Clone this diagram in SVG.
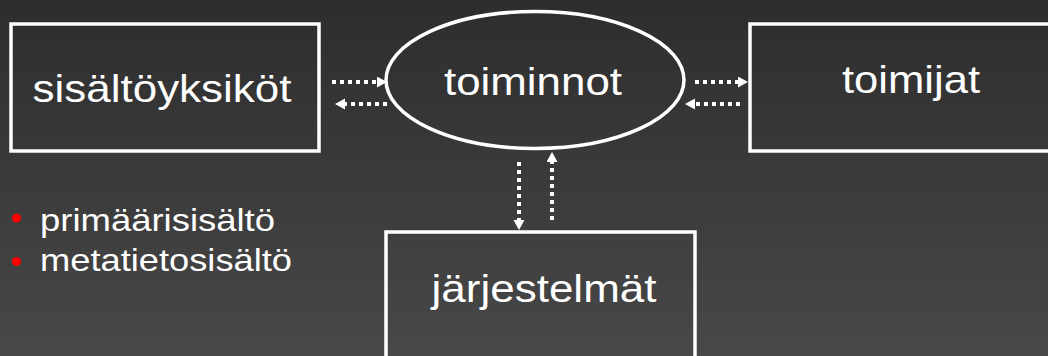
<svg xmlns="http://www.w3.org/2000/svg" width="1048" height="356" viewBox="0 0 1048 356">
  <defs>
    <linearGradient id="bg" x1="0" y1="0" x2="0" y2="1">
      <stop offset="0" stop-color="#2d2d2d"/>
      <stop offset="1" stop-color="#484848"/>
    </linearGradient>
    <marker id="head" markerUnits="userSpaceOnUse" markerWidth="11" markerHeight="12" refX="0" refY="5.5" orient="auto">
      <path d="M0,0 L10,5.5 L0,11 z" fill="#fff"/>
    </marker>
    <style>
      .box { fill: none; stroke: #fff; stroke-width: 3.5; }
      .label { font-family: "Liberation Sans", Arial, sans-serif; fill: #fff; font-size: 39px; text-anchor: middle; }
      .item { font-family: "Liberation Sans", Arial, sans-serif; fill: #fff; font-size: 32px; }
      .flow { fill: none; stroke: #fff; stroke-width: 4; stroke-dasharray: 4 4; marker-end: url(#head); }
      .dot { fill: #ff0000; }
    </style>
  </defs>

  <rect width="1048" height="356" fill="url(#bg)"/>

  <g id="sisaltoyksikot">
    <rect class="box" x="11" y="24" width="308" height="127"/>
    <text class="label" x="162" y="102" textLength="259" lengthAdjust="spacingAndGlyphs">sisältöyksiköt</text>
  </g>

  <g id="toiminnot">
    <ellipse cx="535" cy="80" rx="149" ry="68.5" fill="none" stroke="#fff" stroke-width="3.5"/>
    <text class="label" x="533" y="95" textLength="178" lengthAdjust="spacingAndGlyphs">toiminnot</text>
  </g>

  <g id="toimijat">
    <rect class="box" x="750" y="24" width="310" height="127"/>
    <text class="label" x="911" y="93" textLength="138" lengthAdjust="spacingAndGlyphs">toimijat</text>
  </g>

  <g id="jarjestelmat">
    <rect class="box" x="386" y="232" width="309" height="140" stroke-width="4"/>
    <text class="label" x="544" y="302" textLength="225" lengthAdjust="spacingAndGlyphs">järjestelmät</text>
  </g>

  <g id="sisaltotyypit">
    <circle class="dot" cx="16.5" cy="218" r="4.5"/>
    <text class="item" x="40" y="231" textLength="235" lengthAdjust="spacingAndGlyphs">primäärisisältö</text>
    <circle class="dot" cx="16.5" cy="261.5" r="4.5"/>
    <text class="item" x="40" y="271" textLength="252" lengthAdjust="spacingAndGlyphs">metatietosisältö</text>
  </g>

  <g id="connectors">
    <path class="flow" d="M332,82 H377"/>
    <path class="flow" d="M387,104 H345"/>
    <path class="flow" d="M695,82 H738"/>
    <path class="flow" d="M740,104 H695"/>
    <path class="flow" d="M519,162 V220"/>
    <path class="flow" d="M552,220 V162"/>
  </g>
</svg>
